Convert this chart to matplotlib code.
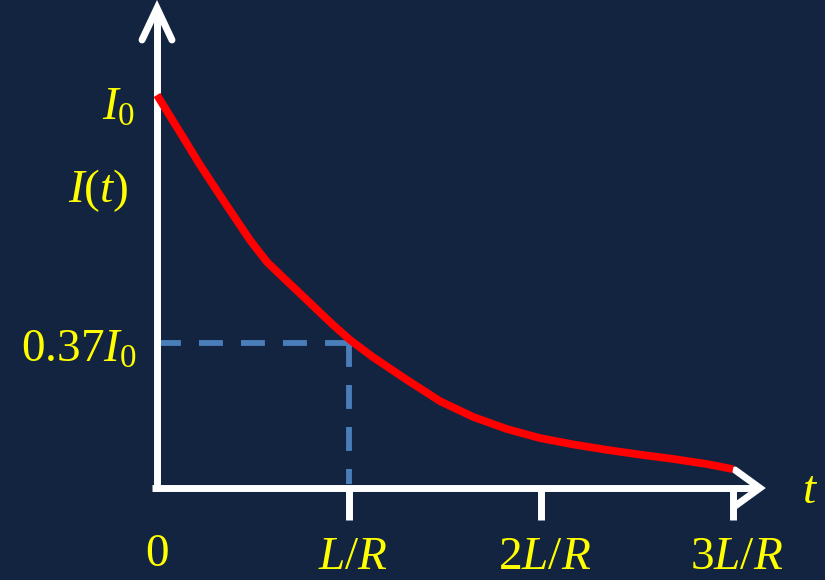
import matplotlib
matplotlib.use("Agg")
import matplotlib.pyplot as plt

plt.rcParams['mathtext.fontset'] = 'custom'
plt.rcParams['mathtext.rm'] = 'Liberation Serif'
plt.rcParams['mathtext.it'] = 'Liberation Serif:italic'
plt.rcParams['font.family'] = ['Liberation Serif', 'DejaVu Serif']

# decay curve, t in units of L/R, current in units of I0
t_vals = [0.0, 0.135, 0.224, 0.3125, 0.396, 0.484, 0.573, 0.656, 0.745, 0.833, 0.917,
          1.005, 1.125, 1.302, 1.474, 1.646, 1.823, 1.995, 2.167, 2.344, 2.516, 2.688,
          2.865, 3.0]
i_vals = [1.0, 0.893, 0.822, 0.756, 0.695, 0.631, 0.575, 0.536, 0.495, 0.454, 0.415,
          0.377, 0.333, 0.275, 0.221, 0.181, 0.150, 0.127, 0.111, 0.097, 0.085, 0.074,
          0.061, 0.048]
tick_pos = [1, 2, 3]
tick_labels = [r'$L/R$', r'$2L/R$', r'$3L/R$']
marker_t = 1.0
marker_i = 0.37

bg = '#12243f'
yellow = '#ffff00'

fig = plt.figure(figsize=(8.25, 5.8), dpi=100, facecolor=bg)
ax = fig.add_axes([0, 0, 1, 1])
ax.set_facecolor(bg)
ax.set_xlim(-0.8177, 3.479)
ax.set_ylim(-0.234, 1.2417)
ax.axis('off')

# dashed guides at t = L/R
ax.plot([0, marker_t], [marker_i, marker_i], color='#4a7ebb', lw=4.2, dashes=(4.1, 3.1))
ax.plot([marker_t, marker_t], [marker_i, 0.01], color='#4a7ebb', lw=4.2, dashes=(4.1, 3.1))

# axes with open arrow heads
ax.plot([-0.025, 3.13], [0, 0], color='white', lw=5, solid_capstyle='butt')
ax.plot([0, 0], [-0.008, 1.21], color='white', lw=5, solid_capstyle='butt')
ax.plot([3.01, 3.14, 3.01], [0.046, 0, -0.046], color='white', lw=5,
        solid_capstyle='round', solid_joinstyle='miter')
ax.plot([-0.078, 0, 0.078], [1.14, 1.221, 1.14], color='white', lw=5,
        solid_capstyle='round', solid_joinstyle='miter')
for p in tick_pos:
    ax.plot([p, p], [0, -0.082], color='white', lw=5, solid_capstyle='butt')

# current decay
ax.plot(t_vals, i_vals, color='#ff0000', lw=5.6, solid_capstyle='butt',
        solid_joinstyle='round')

fs = 34
ax.text(0, -0.17, '0', color=yellow, fontsize=fs, ha='center', va='center')
for p, lab in zip(tick_pos, tick_labels):
    ax.text(p + 0.02, -0.178, lab, color=yellow, fontsize=fs, ha='center', va='center')
ax.text(3.40, -0.01, r'$t$', color=yellow, fontsize=fs, ha='center', va='center')
ax.text(-0.115, 0.967, r'$I_0$', color=yellow, fontsize=fs, ha='right', va='center')
ax.text(-0.15, 0.758, r'$I(t)$', color=yellow, fontsize=fs, ha='right', va='center')
ax.text(-0.107, 0.351, r'$0.37I_0$', color=yellow, fontsize=fs, ha='right', va='center')

fig.savefig('out.png', dpi=100, facecolor=bg)
